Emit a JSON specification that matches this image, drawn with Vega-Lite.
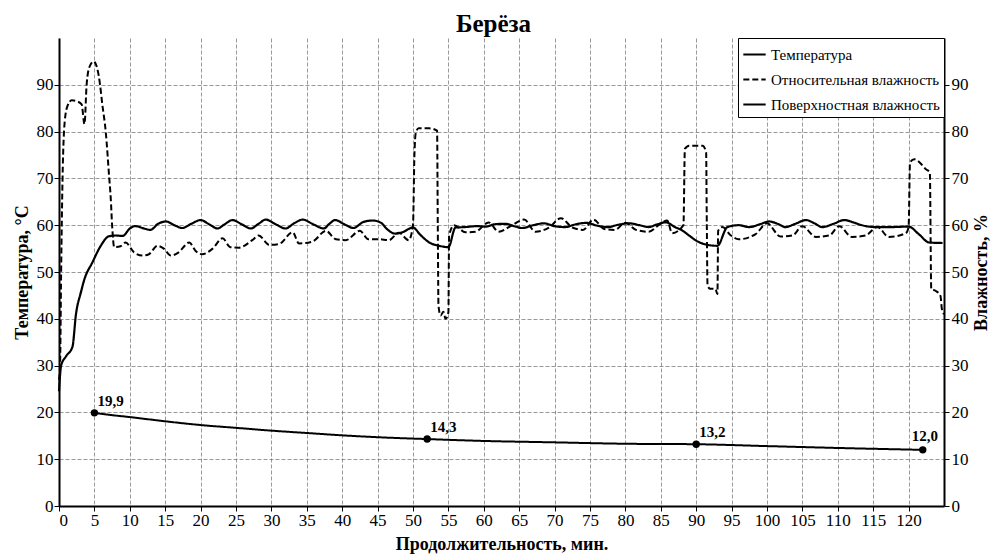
{
  "$schema": "https://vega.github.io/schema/vega-lite/v6.json",
  "width": 885,
  "height": 468,
  "padding": {"left": 13, "top": 11, "right": 1, "bottom": 2},
  "title": {"text": "Берёза", "fontSize": 25, "font": "Liberation Serif", "fontWeight": "bold", "anchor": "middle", "offset": 1, "color": "black", "dx": -8},
  "data": {
    "values": [
      {"s": "Температура", "t": 0, "v": 24.5},
      {"s": "Температура", "t": 0.3, "v": 30},
      {"s": "Температура", "t": 1.0, "v": 32},
      {"s": "Температура", "t": 1.9, "v": 34},
      {"s": "Температура", "t": 2.4, "v": 41},
      {"s": "Температура", "t": 3.1, "v": 45.7},
      {"s": "Температура", "t": 3.6, "v": 48.5},
      {"s": "Температура", "t": 4.7, "v": 52},
      {"s": "Температура", "t": 5.9, "v": 55.6},
      {"s": "Температура", "t": 7.0, "v": 57.6},
      {"s": "Температура", "t": 8.0, "v": 57.8},
      {"s": "Температура", "t": 9.0, "v": 57.7},
      {"s": "Температура", "t": 10.0, "v": 59.3},
      {"s": "Температура", "t": 10.8, "v": 59.8},
      {"s": "Температура", "t": 12.0, "v": 59.3},
      {"s": "Температура", "t": 12.9, "v": 59.0},
      {"s": "Температура", "t": 14.0, "v": 60.3},
      {"s": "Температура", "t": 15.1, "v": 60.8},
      {"s": "Температура", "t": 16.3, "v": 60.0},
      {"s": "Температура", "t": 17.4, "v": 59.4},
      {"s": "Температура", "t": 18.7, "v": 60.3},
      {"s": "Температура", "t": 20.0, "v": 61.1},
      {"s": "Температура", "t": 21.2, "v": 60.2},
      {"s": "Температура", "t": 22.4, "v": 59.3},
      {"s": "Температура", "t": 23.4, "v": 60.2},
      {"s": "Температура", "t": 24.5, "v": 61.1},
      {"s": "Температура", "t": 25.8, "v": 60.2},
      {"s": "Температура", "t": 27.1, "v": 59.3},
      {"s": "Температура", "t": 28.2, "v": 60.3},
      {"s": "Температура", "t": 29.2, "v": 61.2},
      {"s": "Температура", "t": 30.6, "v": 60.2},
      {"s": "Температура", "t": 32.0, "v": 59.3},
      {"s": "Температура", "t": 33.2, "v": 60.4},
      {"s": "Температура", "t": 34.4, "v": 61.2},
      {"s": "Температура", "t": 35.9, "v": 60.2},
      {"s": "Температура", "t": 37.4, "v": 59.3},
      {"s": "Температура", "t": 38.2, "v": 60.3},
      {"s": "Температура", "t": 39.0, "v": 61.1},
      {"s": "Температура", "t": 40.3, "v": 60.2},
      {"s": "Температура", "t": 41.6, "v": 59.4},
      {"s": "Температура", "t": 43.0, "v": 60.7},
      {"s": "Температура", "t": 44.3, "v": 61.0},
      {"s": "Температура", "t": 45.5, "v": 60.5},
      {"s": "Температура", "t": 46.3, "v": 59.2},
      {"s": "Температура", "t": 47.5, "v": 58.2},
      {"s": "Температура", "t": 48.5, "v": 58.5},
      {"s": "Температура", "t": 50.0, "v": 59.5},
      {"s": "Температура", "t": 51.0, "v": 58.0},
      {"s": "Температура", "t": 52.3, "v": 56.3},
      {"s": "Температура", "t": 53.7, "v": 55.6},
      {"s": "Температура", "t": 55.0, "v": 55.3},
      {"s": "Температура", "t": 56.0, "v": 59.5},
      {"s": "Температура", "t": 57.4, "v": 59.6},
      {"s": "Температура", "t": 59.0, "v": 59.8},
      {"s": "Температура", "t": 60.3, "v": 59.7},
      {"s": "Температура", "t": 61.5, "v": 60.2},
      {"s": "Температура", "t": 63.0, "v": 60.3},
      {"s": "Температура", "t": 64.5, "v": 59.7},
      {"s": "Температура", "t": 65.4, "v": 59.4},
      {"s": "Температура", "t": 67.0, "v": 60.0},
      {"s": "Температура", "t": 68.5, "v": 60.4},
      {"s": "Температура", "t": 70.0, "v": 59.8},
      {"s": "Температура", "t": 71.5, "v": 59.6},
      {"s": "Температура", "t": 73.0, "v": 60.2},
      {"s": "Температура", "t": 74.5, "v": 60.5},
      {"s": "Температура", "t": 76.0, "v": 59.9},
      {"s": "Температура", "t": 77.5, "v": 59.6},
      {"s": "Температура", "t": 79.0, "v": 60.1},
      {"s": "Температура", "t": 80.5, "v": 60.4},
      {"s": "Температура", "t": 82.0, "v": 60.0},
      {"s": "Температура", "t": 83.3, "v": 59.6},
      {"s": "Температура", "t": 84.5, "v": 60.2},
      {"s": "Температура", "t": 85.7, "v": 60.6},
      {"s": "Температура", "t": 87.0, "v": 59.6},
      {"s": "Температура", "t": 88.0, "v": 58.9},
      {"s": "Температура", "t": 89.0, "v": 57.8},
      {"s": "Температура", "t": 90.0, "v": 56.7},
      {"s": "Температура", "t": 91.6, "v": 55.8},
      {"s": "Температура", "t": 93.0, "v": 55.6},
      {"s": "Температура", "t": 94.4, "v": 59.6},
      {"s": "Температура", "t": 96.0, "v": 60.0},
      {"s": "Температура", "t": 97.5, "v": 59.6},
      {"s": "Температура", "t": 99.0, "v": 60.2},
      {"s": "Температура", "t": 100.3, "v": 60.8},
      {"s": "Температура", "t": 101.5, "v": 60.3},
      {"s": "Температура", "t": 102.6, "v": 59.6},
      {"s": "Температура", "t": 104.0, "v": 60.3},
      {"s": "Температура", "t": 105.5, "v": 61.1},
      {"s": "Температура", "t": 106.7, "v": 60.4},
      {"s": "Температура", "t": 107.8, "v": 59.6},
      {"s": "Температура", "t": 109.4, "v": 60.3},
      {"s": "Температура", "t": 110.9, "v": 61.1},
      {"s": "Температура", "t": 112.2, "v": 60.6},
      {"s": "Температура", "t": 113.4, "v": 60.0},
      {"s": "Температура", "t": 115.3, "v": 59.6},
      {"s": "Температура", "t": 117.5, "v": 59.6},
      {"s": "Температура", "t": 120.0, "v": 59.7},
      {"s": "Температура", "t": 121.5, "v": 58.0},
      {"s": "Температура", "t": 122.9, "v": 56.3},
      {"s": "Температура", "t": 124.8, "v": 56.2},

      {"s": "Относительная влажность", "t": 0, "v": 27},
      {"s": "Относительная влажность", "t": 0.15, "v": 30},
      {"s": "Относительная влажность", "t": 0.3, "v": 50},
      {"s": "Относительная влажность", "t": 0.5, "v": 70},
      {"s": "Относительная влажность", "t": 0.8, "v": 82},
      {"s": "Относительная влажность", "t": 1.2, "v": 85.5},
      {"s": "Относительная влажность", "t": 1.8, "v": 86.7},
      {"s": "Относительная влажность", "t": 2.5, "v": 86.5},
      {"s": "Относительная влажность", "t": 3.2, "v": 85.8},
      {"s": "Относительная влажность", "t": 3.6, "v": 81.6},
      {"s": "Относительная влажность", "t": 3.9, "v": 90},
      {"s": "Относительная влажность", "t": 4.3, "v": 93.8},
      {"s": "Относительная влажность", "t": 4.9, "v": 95},
      {"s": "Относительная влажность", "t": 5.4, "v": 93.5},
      {"s": "Относительная влажность", "t": 5.8, "v": 90},
      {"s": "Относительная влажность", "t": 6.1, "v": 86},
      {"s": "Относительная влажность", "t": 6.6, "v": 80},
      {"s": "Относительная влажность", "t": 7.1, "v": 70},
      {"s": "Относительная влажность", "t": 7.3, "v": 66},
      {"s": "Относительная влажность", "t": 7.5, "v": 60},
      {"s": "Относительная влажность", "t": 7.8, "v": 55.3},
      {"s": "Относительная влажность", "t": 8.7, "v": 55.5},
      {"s": "Относительная влажность", "t": 9.4, "v": 56.3},
      {"s": "Относительная влажность", "t": 10.6, "v": 54.2},
      {"s": "Относительная влажность", "t": 11.8, "v": 53.5},
      {"s": "Относительная влажность", "t": 12.7, "v": 53.8},
      {"s": "Относительная влажность", "t": 13.9, "v": 55.6},
      {"s": "Относительная влажность", "t": 14.8, "v": 55.0},
      {"s": "Относительная влажность", "t": 15.8, "v": 53.5},
      {"s": "Относительная влажность", "t": 16.9, "v": 54.2},
      {"s": "Относительная влажность", "t": 18.4, "v": 56.3},
      {"s": "Относительная влажность", "t": 19.3, "v": 54.5},
      {"s": "Относительная влажность", "t": 20.2, "v": 53.8},
      {"s": "Относительная влажность", "t": 21.7, "v": 55.0},
      {"s": "Относительная влажность", "t": 23.1, "v": 57.2},
      {"s": "Относительная влажность", "t": 24.2, "v": 55.3},
      {"s": "Относительная влажность", "t": 25.4, "v": 55.2},
      {"s": "Относительная влажность", "t": 27.3, "v": 56.8},
      {"s": "Относительная влажность", "t": 28.2, "v": 57.8},
      {"s": "Относительная влажность", "t": 29.7, "v": 55.8},
      {"s": "Относительная влажность", "t": 31.1, "v": 56.0},
      {"s": "Относительная влажность", "t": 33.0, "v": 58.5},
      {"s": "Относительная влажность", "t": 33.9, "v": 56.1},
      {"s": "Относительная влажность", "t": 35.8, "v": 56.5},
      {"s": "Относительная влажность", "t": 37.7, "v": 58.8},
      {"s": "Относительная влажность", "t": 39.1, "v": 57.0},
      {"s": "Относительная влажность", "t": 40.5, "v": 56.8},
      {"s": "Относительная влажность", "t": 42.5, "v": 58.8},
      {"s": "Относительная влажность", "t": 43.7, "v": 57.0},
      {"s": "Относительная влажность", "t": 45.2, "v": 57.0},
      {"s": "Относительная влажность", "t": 46.6, "v": 56.8},
      {"s": "Относительная влажность", "t": 48.0, "v": 58.4},
      {"s": "Относительная влажность", "t": 49.4, "v": 56.8},
      {"s": "Относительная влажность", "t": 50.0, "v": 60.0},
      {"s": "Относительная влажность", "t": 50.2, "v": 75},
      {"s": "Относительная влажность", "t": 50.4, "v": 79.8},
      {"s": "Относительная влажность", "t": 50.8, "v": 80.7},
      {"s": "Относительная влажность", "t": 52.3, "v": 80.7},
      {"s": "Относительная влажность", "t": 53.4, "v": 80.2},
      {"s": "Относительная влажность", "t": 53.5, "v": 60},
      {"s": "Относительная влажность", "t": 53.6, "v": 42.8},
      {"s": "Относительная влажность", "t": 53.9, "v": 40.7},
      {"s": "Относительная влажность", "t": 54.3, "v": 41.5},
      {"s": "Относительная влажность", "t": 54.6, "v": 40.0},
      {"s": "Относительная влажность", "t": 55.0, "v": 41.4},
      {"s": "Относительная влажность", "t": 55.1, "v": 57.8},
      {"s": "Относительная влажность", "t": 55.8, "v": 60.0},
      {"s": "Относительная влажность", "t": 57.4, "v": 58.5},
      {"s": "Относительная влажность", "t": 58.8, "v": 58.6},
      {"s": "Относительная влажность", "t": 60.7, "v": 60.6},
      {"s": "Относительная влажность", "t": 62.1, "v": 58.6},
      {"s": "Относительная влажность", "t": 64.0, "v": 60.0},
      {"s": "Относительная влажность", "t": 65.7, "v": 61.2},
      {"s": "Относительная влажность", "t": 67.3, "v": 58.6},
      {"s": "Относительная влажность", "t": 69.2, "v": 59.5},
      {"s": "Относительная влажность", "t": 70.9, "v": 61.5},
      {"s": "Относительная влажность", "t": 72.5, "v": 59.5},
      {"s": "Относительная влажность", "t": 74.0, "v": 59.0},
      {"s": "Относительная влажность", "t": 75.5, "v": 61.2},
      {"s": "Относительная влажность", "t": 77.0, "v": 59.2},
      {"s": "Относительная влажность", "t": 78.5, "v": 59.0},
      {"s": "Относительная влажность", "t": 80.0, "v": 60.5},
      {"s": "Относительная влажность", "t": 81.5, "v": 59.0},
      {"s": "Относительная влажность", "t": 83.3, "v": 58.6},
      {"s": "Относительная влажность", "t": 84.7, "v": 60.0},
      {"s": "Относительная влажность", "t": 85.9, "v": 61.0},
      {"s": "Относительная влажность", "t": 86.6, "v": 58.3},
      {"s": "Относительная влажность", "t": 88.2, "v": 60.0},
      {"s": "Относительная влажность", "t": 88.4, "v": 76.3},
      {"s": "Относительная влажность", "t": 89.0, "v": 77.0},
      {"s": "Относительная влажность", "t": 90.9, "v": 77.0},
      {"s": "Относительная влажность", "t": 91.4, "v": 75.6},
      {"s": "Относительная влажность", "t": 91.5, "v": 60},
      {"s": "Относительная влажность", "t": 91.6, "v": 47.1},
      {"s": "Относительная влажность", "t": 92.0, "v": 46.4},
      {"s": "Относительная влажность", "t": 92.7, "v": 46.4},
      {"s": "Относительная влажность", "t": 93.0, "v": 45.3},
      {"s": "Относительная влажность", "t": 93.1, "v": 58.8},
      {"s": "Относительная влажность", "t": 93.7, "v": 59.6},
      {"s": "Относительная влажность", "t": 94.9, "v": 57.8},
      {"s": "Относительная влажность", "t": 96.0, "v": 57.0},
      {"s": "Относительная влажность", "t": 98.4, "v": 58.1},
      {"s": "Относительная влажность", "t": 100.0, "v": 60.4},
      {"s": "Относительная влажность", "t": 101.9, "v": 57.6},
      {"s": "Относительная влажность", "t": 103.6, "v": 57.8},
      {"s": "Относительная влажность", "t": 105.0, "v": 59.8},
      {"s": "Относительная влажность", "t": 106.9, "v": 57.5},
      {"s": "Относительная влажность", "t": 108.8, "v": 57.8},
      {"s": "Относительная влажность", "t": 110.2, "v": 59.8},
      {"s": "Относительная влажность", "t": 112.0, "v": 57.5},
      {"s": "Относительная влажность", "t": 113.9, "v": 57.8},
      {"s": "Относительная влажность", "t": 115.6, "v": 59.6},
      {"s": "Относительная влажность", "t": 117.2, "v": 57.5},
      {"s": "Относительная влажность", "t": 119.6, "v": 58.3},
      {"s": "Относительная влажность", "t": 120.0, "v": 59.6},
      {"s": "Относительная влажность", "t": 120.2, "v": 73.4},
      {"s": "Относительная влажность", "t": 120.8, "v": 74.1},
      {"s": "Относительная влажность", "t": 121.7, "v": 73.2},
      {"s": "Относительная влажность", "t": 122.4, "v": 72.0},
      {"s": "Относительная влажность", "t": 123.0, "v": 71.3},
      {"s": "Относительная влажность", "t": 123.2, "v": 46.4},
      {"s": "Относительная влажность", "t": 123.8, "v": 46.0},
      {"s": "Относительная влажность", "t": 124.5, "v": 44.9},
      {"s": "Относительная влажность", "t": 124.7, "v": 42.1},
      {"s": "Относительная влажность", "t": 125, "v": 41},

      {"s": "Поверхностная влажность", "t": 5, "v": 19.9, "m": 1},
      {"s": "Поверхностная влажность", "t": 7, "v": 19.5},
      {"s": "Поверхностная влажность", "t": 10, "v": 19.0},
      {"s": "Поверхностная влажность", "t": 15, "v": 18.1},
      {"s": "Поверхностная влажность", "t": 20, "v": 17.3},
      {"s": "Поверхностная влажность", "t": 25, "v": 16.7},
      {"s": "Поверхностная влажность", "t": 30, "v": 16.1},
      {"s": "Поверхностная влажность", "t": 35, "v": 15.6},
      {"s": "Поверхностная влажность", "t": 40, "v": 15.1},
      {"s": "Поверхностная влажность", "t": 45, "v": 14.7},
      {"s": "Поверхностная влажность", "t": 52, "v": 14.3, "m": 1},
      {"s": "Поверхностная влажность", "t": 60, "v": 13.9},
      {"s": "Поверхностная влажность", "t": 70, "v": 13.6},
      {"s": "Поверхностная влажность", "t": 80, "v": 13.3},
      {"s": "Поверхностная влажность", "t": 90, "v": 13.2, "m": 1},
      {"s": "Поверхностная влажность", "t": 100, "v": 12.8},
      {"s": "Поверхностная влажность", "t": 110, "v": 12.4},
      {"s": "Поверхностная влажность", "t": 122, "v": 12.0, "m": 1}
    ]
  },
  "encoding": {
    "x": {
      "field": "t",
      "type": "quantitative",
      "scale": {"domain": [0, 125], "nice": false, "zero": false},
      "axis": {
        "values": [0, 5, 10, 15, 20, 25, 30, 35, 40, 45, 50, 55, 60, 65, 70, 75, 80, 85, 90, 95, 100, 105, 110, 115, 120],
        "title": "Продолжительность, мин.",
        "grid": true,
        "titlePadding": 7,
        "labelPadding": 1
      }
    }
  },
  "layer": [
    {
      "transform": [{"filter": "datum.s === 'Температура'"}],
      "mark": {"type": "line", "color": "black", "strokeWidth": 2.2, "interpolate": "monotone"},
      "encoding": {
        "y": {
          "field": "v",
          "type": "quantitative",
          "scale": {"domain": [0, 100], "nice": false},
          "axis": {"orient": "left", "values": [0, 10, 20, 30, 40, 50, 60, 70, 80, 90], "title": "Температура, °С", "grid": true, "titlePadding": 5, "labelPadding": 1}
        },
        "strokeDash": {
          "field": "s",
          "type": "nominal",
          "scale": {"domain": ["Температура", "Относительная влажность", "Поверхностная влажность"], "range": [[1, 0], [6, 3], [1, 0]]},
          "legend": {"title": null}
        }
      }
    },
    {
      "transform": [{"filter": "datum.s !== 'Температура'"}],
      "mark": {"type": "line", "color": "black", "strokeWidth": 2, "interpolate": "monotone"},
      "encoding": {
        "y": {
          "field": "v",
          "type": "quantitative",
          "scale": {"domain": [0, 100], "nice": false},
          "axis": {"orient": "right", "values": [0, 10, 20, 30, 40, 50, 60, 70, 80, 90], "title": "Влажность, %", "grid": false, "titlePadding": 4, "labelPadding": 2, "titleAngle": 270, "titleBaseline": "top"}
        },
        "strokeDash": {
          "field": "s",
          "type": "nominal",
          "scale": {"domain": ["Температура", "Относительная влажность", "Поверхностная влажность"], "range": [[1, 0], [6, 3], [1, 0]]},
          "legend": {"title": null}
        }
      }
    },
    {
      "transform": [{"filter": "datum.m === 1"}],
      "mark": {"type": "point", "filled": true, "color": "black", "size": 55, "opacity": 1},
      "encoding": {
        "y": {"field": "v", "type": "quantitative", "scale": {"domain": [0, 100], "nice": false}, "axis": null}
      }
    },
    {
      "transform": [{"filter": "datum.m === 1 && datum.t < 120"}],
      "mark": {"type": "text", "align": "left", "baseline": "bottom", "dx": 3, "dy": -4, "font": "Liberation Serif", "fontSize": 15, "fontWeight": "bold", "color": "black"},
      "encoding": {
        "y": {"field": "v", "type": "quantitative", "scale": {"domain": [0, 100], "nice": false}, "axis": null},
        "text": {"field": "v", "type": "quantitative", "format": ".1f"}
      }
    },
    {
      "transform": [{"filter": "datum.m === 1 && datum.t >= 120"}],
      "mark": {"type": "text", "align": "center", "baseline": "bottom", "dx": 2, "dy": -6, "font": "Liberation Serif", "fontSize": 15, "fontWeight": "bold", "color": "black"},
      "encoding": {
        "y": {"field": "v", "type": "quantitative", "scale": {"domain": [0, 100], "nice": false}, "axis": null},
        "text": {"field": "v", "type": "quantitative", "format": ".1f"}
      }
    }
  ],
  "resolve": {"scale": {"y": "independent"}},
  "config": {
    "font": "Liberation Serif",
    "view": {"stroke": null},
    "locale": {"number": {"decimal": ",", "thousands": " ", "grouping": [3], "currency": ["", ""]}},
    "axis": {
      "labelFont": "Liberation Serif",
      "labelFontSize": 17,
      "labelColor": "black",
      "titleFont": "Liberation Serif",
      "titleFontSize": 18,
      "titleFontWeight": "bold",
      "titleColor": "black",
      "domainColor": "black",
      "domainWidth": 2,
      "tickColor": "black",
      "tickSize": 5,
      "gridColor": "#555555",
      "gridDash": [4, 2],
      "gridWidth": 1,
      "gridOpacity": 0.6
    },
    "legend": {
      "orient": "top-right",
      "offset": 0,
      "fillColor": "white",
      "strokeColor": "black",
      "padding": 4,
      "labelFont": "Liberation Serif",
      "labelFontSize": 15,
      "labelColor": "black",
      "labelLimit": 400,
      "symbolType": "stroke",
      "symbolStrokeWidth": 2,
      "symbolSize": 500,
      "symbolStrokeColor": "black",
      "rowPadding": 4
    }
  }
}
